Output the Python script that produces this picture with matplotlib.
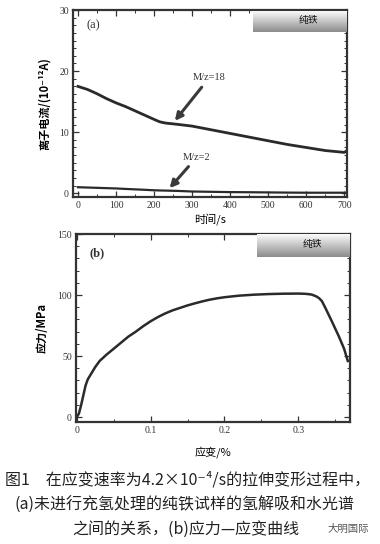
import matplotlib
matplotlib.use('Agg')
import matplotlib.pyplot as plt
import numpy as np
from matplotlib.ticker import MultipleLocator

plt.rcParams['font.family'] = ['Liberation Serif', 'Noto Sans CJK SC', 'DejaVu Sans']
CJK = ['Noto Sans CJK SC', 'DejaVu Sans']

# (a) ion current vs time
time_s = [0, 25, 50, 75, 100, 125, 150, 175, 200, 215, 230, 260, 300, 350, 400, 450,
          500, 550, 600, 650, 700, 707]
mz18 = [17.5, 17.0, 16.3, 15.5, 14.8, 14.2, 13.5, 12.8, 12.1, 11.7, 11.5, 11.3, 11.0,
        10.4, 9.8, 9.2, 8.6, 8.0, 7.5, 7.0, 6.7, 7.0]
mz2 = [1.0, 0.95, 0.9, 0.85, 0.8, 0.72, 0.65, 0.58, 0.5, 0.47, 0.45, 0.4, 0.3, 0.25,
       0.2, 0.18, 0.15, 0.12, 0.1, 0.1, 0.1, 0.1]

# (b) stress-strain
strain = [0, 0.003, 0.006, 0.009, 0.012, 0.015, 0.02, 0.025, 0.031, 0.04, 0.05, 0.06,
          0.07, 0.08, 0.09, 0.10, 0.11, 0.12, 0.13, 0.14, 0.15, 0.16, 0.17, 0.18, 0.19,
          0.20, 0.22, 0.24, 0.26, 0.28, 0.30, 0.31, 0.318, 0.324, 0.328, 0.332, 0.337,
          0.345, 0.355, 0.362, 0.367]
stress = [0, 3, 10, 18, 26, 31, 36, 41, 46, 51, 56, 61, 66, 70, 74.5, 78.5, 82, 85, 87.5,
          89.5, 91.5, 93.2, 94.8, 96.2, 97.3, 98.2, 99.5, 100.3, 100.8, 101.1, 101.2, 101,
          100.4, 99, 97.5, 95, 89, 79, 66, 56, 46]

caption = ["图1　在应变速率为4.2×10⁻⁴/s的拉伸变形过程中，",
           "(a)未进行充氢处理的纯铁试样的氢解吸和水光谱",
           "之间的关系，(b)应力—应变曲线"]

W, H = 380, 544
fig = plt.figure(figsize=(W / 100, H / 100), dpi=100)


def px_axes(x0, y0, x1, y1):
    return fig.add_axes([x0 / W, 1 - y1 / H, (x1 - x0) / W, (y1 - y0) / H])


def style(ax):
    for s in ax.spines.values():
        s.set_linewidth(1.6)
        s.set_color('#333333')
    ax.tick_params(which='both', direction='in', top=True, right=True,
                   labelsize=7, colors='#333333', pad=3)
    ax.tick_params(which='major', length=4, width=0.9)
    ax.tick_params(which='minor', length=2, width=0.7)


def legend_box(x0, y0, x1, y1, label):
    bx = px_axes(x0, y0, x1, y1)
    grad = np.linspace(0.98, 0.55, 40).reshape(-1, 1)
    bx.imshow(grad, cmap='gray', vmin=0, vmax=1, aspect='auto', extent=[0, 1, 0, 1])
    bx.axis('off')
    bx.text(0.6, 0.55, label, ha='center', va='center', fontsize=7, family=CJK, color='#111111')


# panel (a)
ax1 = px_axes(73, 10, 347, 197)
ax1.plot(time_s, mz18, color='#2a2a2a', lw=2.0)
ax1.plot(time_s, mz2, color='#2a2a2a', lw=1.6)
ax1.set_xlim(-13, 707)
ax1.set_ylim(-0.6, 30)
ax1.xaxis.set_major_locator(MultipleLocator(100))
ax1.yaxis.set_major_locator(MultipleLocator(10))
ax1.yaxis.set_minor_locator(MultipleLocator(1.25))
ax1.xaxis.set_minor_locator(MultipleLocator(50))
style(ax1)
ax1.set_xlabel('时间/s', family=CJK, fontsize=8, labelpad=2)
ax1.set_ylabel('离子电流/(10⁻¹²A)', family=CJK, fontsize=8, labelpad=6, fontweight='bold')
ax1.text(0.05, 0.9, '(a)', transform=ax1.transAxes, fontsize=9, color='#333333')
arrow = dict(arrowstyle='-|>', lw=2.2, color='#3a3a3a', mutation_scale=11)
ax1.annotate('M/z=18', xy=(250, 11.5), xytext=(345, 18.5), ha='center', fontsize=7.5,
             color='#333333', arrowprops=arrow)
ax1.annotate('M/z=2', xy=(236, 0.5), xytext=(312, 5.5), ha='center', fontsize=7.5,
             color='#333333', arrowprops=arrow)
legend_box(253, 11, 346, 32, '纯铁')

# panel (b)
ax2 = px_axes(76, 234, 350, 422)
ax2.plot(strain, stress, color='#2a2a2a', lw=1.8)
ax2.set_xlim(-0.001, 0.37)
ax2.set_ylim(-4, 150)
ax2.xaxis.set_minor_locator(MultipleLocator(0.05))
ax2.yaxis.set_major_locator(MultipleLocator(50))
ax2.yaxis.set_minor_locator(MultipleLocator(10))
ax2.set_xticks([0, 0.1, 0.2, 0.3])
ax2.set_xticklabels(['0', '0.1', '0.2', '0.3'])
style(ax2)
ax2.set_xlabel('应变/%', family=CJK, fontsize=8, labelpad=8)
ax2.set_ylabel('应力/MPa', family=CJK, fontsize=8, labelpad=6, fontweight='bold')
ax2.text(0.05, 0.88, '(b)', transform=ax2.transAxes, fontsize=9, color='#333333',
         fontweight='bold')
legend_box(257, 234, 350, 257, '纯铁')

# caption
fig.text(5 / W, 1 - 480 / H, caption[0], family=CJK, fontsize=11.5, va='center', color='#222222')
fig.text(15 / W, 1 - 505 / H, caption[1], family=CJK, fontsize=11.5, va='center', color='#222222')
fig.text(72 / W, 1 - 529 / H, caption[2], family=CJK, fontsize=11.5, va='center', color='#222222')
fig.text(328 / W, 1 - 529 / H, '大明国际', family=CJK, fontsize=7.5, va='center', color='#555555')

fig.savefig('out.png', dpi=100, facecolor='white')
